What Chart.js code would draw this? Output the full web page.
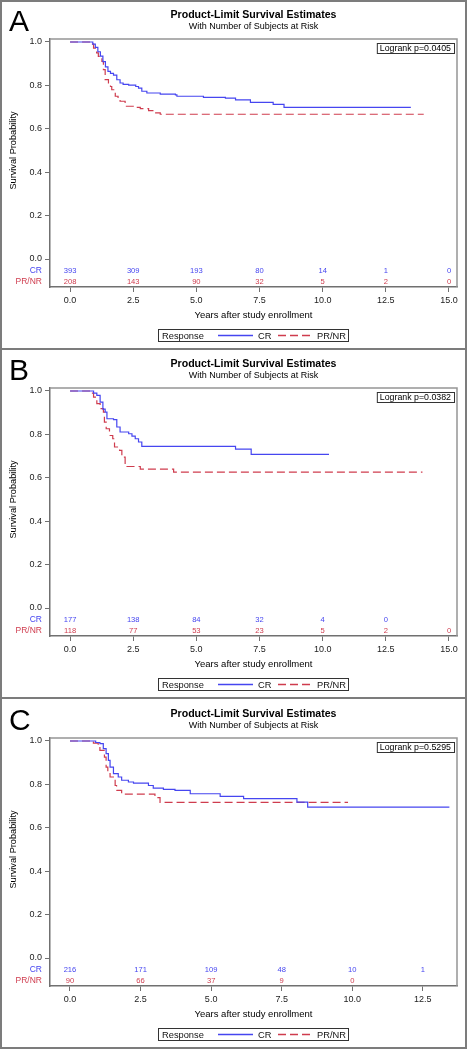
<!DOCTYPE html>
<html>
<head>
<meta charset="utf-8">
<script src="https://cdn.jsdelivr.net/npm/chart.js@4.4.1/dist/chart.umd.min.js"></script>
<style>
  html, body { margin: 0; padding: 0; background: #fff; }
  #page { position: relative; width: 467px; height: 1050px; overflow: hidden; }
  canvas { position: absolute; left: 0; }
  .frame { position: absolute; left: 0; width: 467px; box-sizing: border-box; border: 2px solid #7c7c7c; pointer-events: none; }
</style>
</head>
<body>
<div id="page">
  <canvas id="chartA" width="467" height="348" style="top:0px"></canvas>
  <canvas id="chartB" width="467" height="348" style="top:349px"></canvas>
  <canvas id="chartC" width="467" height="349" style="top:699px"></canvas>
  <div class="frame" style="top:0px;height:350px"></div>
  <div class="frame" style="top:348px;height:351px"></div>
  <div class="frame" style="top:697px;height:352px"></div>
</div>
<script>
// Achsen / Beschriftungen
const yTicks = [0, 0.2, 0.4, 0.6, 0.8, 1.0];
const xTicksAB = [0, 2.5, 5, 7.5, 10, 12.5, 15];
const xTicksC = [0, 2.5, 5, 7.5, 10, 12.5];
const groupNames = ['CR', 'PR/NR'];
const logrankTexts = ['Logrank p=0.0405', 'Logrank p=0.0382', 'Logrank p=0.5295'];

// Number at risk (gleiche Reihenfolge wie die x-Ticks)
const riskA_CR = [393, 309, 193, 80, 14, 1, 0];
const riskA_PR = [208, 143, 90, 32, 5, 2, 0];
const riskB_CR = [177, 138, 84, 32, 4, 0];
const riskB_PR = [118, 77, 53, 23, 5, 2, 0];
const riskC_CR = [216, 171, 109, 48, 10, 1];
const riskC_PR = [90, 66, 37, 9, 0];

// Kaplan-Meier Kurven (Zeit in Jahren, Überlebenswahrscheinlichkeit)
const aCrTime = [0, 0.9, 1.0, 1.1, 1.2, 1.3, 1.4, 1.5, 1.6, 1.72, 1.85, 1.98, 2.1, 2.32, 2.6, 2.71, 2.84, 3.04, 3.57, 4.17, 4.23, 5.28, 6.15, 6.55, 7.14, 8.04, 8.47, 13.49];
const aCrSurv = [1, 0.99, 0.975, 0.955, 0.935, 0.91, 0.885, 0.865, 0.855, 0.847, 0.826, 0.811, 0.805, 0.801, 0.795, 0.787, 0.773, 0.765, 0.76, 0.756, 0.75, 0.745, 0.741, 0.733, 0.722, 0.713, 0.699, 0.699];
const aPrTime = [0, 0.83, 0.93, 1.05, 1.12, 1.26, 1.32, 1.39, 1.52, 1.6, 1.65, 1.79, 1.9, 1.98, 2.18, 2.5, 2.78, 3.11, 3.31, 3.57, 14.0];
const aPrSurv = [1, 0.99, 0.972, 0.95, 0.934, 0.911, 0.873, 0.827, 0.811, 0.795, 0.78, 0.75, 0.737, 0.727, 0.704, 0.699, 0.693, 0.684, 0.673, 0.667, 0.667];

const bCrTime = [0, 0.93, 1.06, 1.19, 1.3, 1.39, 1.46, 1.72, 1.85, 1.98, 2.32, 2.45, 2.58, 2.71, 2.84, 6.55, 7.17, 10.25];
const bCrSurv = [1, 0.99, 0.98, 0.949, 0.916, 0.903, 0.872, 0.868, 0.834, 0.811, 0.803, 0.792, 0.78, 0.765, 0.745, 0.732, 0.708, 0.708];
const bPrTime = [0, 0.86, 0.93, 1.06, 1.19, 1.32, 1.36, 1.43, 1.56, 1.69, 1.76, 1.96, 2.05, 2.18, 2.25, 2.78, 4.1, 13.95];
const bPrSurv = [1, 0.99, 0.972, 0.942, 0.919, 0.903, 0.857, 0.826, 0.795, 0.78, 0.742, 0.726, 0.695, 0.66, 0.652, 0.64, 0.626, 0.626];

const cCrTime = [0, 0.91, 1.06, 1.18, 1.28, 1.36, 1.42, 1.54, 1.71, 1.83, 2.07, 2.25, 2.78, 2.95, 3.31, 3.72, 4.26, 5.32, 6.15, 8.04, 8.42, 13.44];
const cCrSurv = [1, 0.993, 0.988, 0.965, 0.942, 0.911, 0.88, 0.85, 0.834, 0.819, 0.811, 0.806, 0.795, 0.783, 0.777, 0.772, 0.757, 0.745, 0.734, 0.718, 0.695, 0.695];
const cPrTime = [0, 0.83, 1.0, 1.06, 1.22, 1.28, 1.34, 1.42, 1.6, 1.65, 1.83, 3.01, 3.19, 9.85];
const cPrSurv = [1, 0.99, 0.98, 0.957, 0.926, 0.88, 0.85, 0.834, 0.795, 0.772, 0.755, 0.739, 0.717, 0.717];

const FONT = "'Liberation Sans', Arial, sans-serif";
const BLUE = '#4646f0';
const RED = '#cf3c4e';

function kmPoints(times, surv) {
    return times.map((t, i) => ({ x: t, y: surv[i] }));
}

/**
 * Zeichnet Titel, Risikotabelle, Logrank-Box und Legende im SAS-Stil.
 */
const sasDecor = {
    id: 'sasDecor',
    afterDraw(chart, args, opts) {
        const ctx = chart.ctx;
        const a = chart.chartArea;
        const xs = chart.scales.x;
        const ys = chart.scales.y;
        const cx = (a.left + a.right) / 2;
        ctx.save();
        ctx.setLineDash([]);

        // Rahmen oben / rechts
        ctx.strokeStyle = '#959595';
        ctx.lineWidth = 1.5;
        ctx.beginPath();
        ctx.moveTo(a.left, a.top);
        ctx.lineTo(a.right, a.top);
        ctx.lineTo(a.right, a.bottom);
        ctx.stroke();

        // Panel-Buchstabe
        ctx.fillStyle = '#000';
        ctx.textBaseline = 'alphabetic';
        ctx.textAlign = 'left';
        ctx.font = '30px ' + FONT;
        ctx.fillText(opts.letter, 9, 31);

        // Titel
        ctx.textAlign = 'center';
        ctx.textBaseline = 'middle';
        ctx.font = 'bold 10.6px ' + FONT;
        ctx.fillText('Product-Limit Survival Estimates', cx, 15.5);
        ctx.font = '9px ' + FONT;
        ctx.fillText('With Number of Subjects at Risk', cx, 26.5);

        // Achsentitel
        ctx.font = '9.5px ' + FONT;
        ctx.fillText('Years after study enrollment', cx, 315);
        ctx.save();
        ctx.translate(13, (ys.getPixelForValue(0) + ys.getPixelForValue(1)) / 2);
        ctx.rotate(-Math.PI / 2);
        ctx.font = '9.2px ' + FONT;
        ctx.fillText('Survival Probability', 0, 0);
        ctx.restore();

        // Logrank
        ctx.font = '8.8px ' + FONT;
        const lw = ctx.measureText(opts.logrank).width;
        ctx.strokeStyle = '#333';
        ctx.lineWidth = 1;
        ctx.strokeRect(a.right - 3 - lw - 6 + 0.5, a.top + 4.5, lw + 6, 10);
        ctx.fillText(opts.logrank, a.right - 3 - lw / 2 - 3, a.top + 10);

        // Number at risk
        const rowCR = ys.getPixelForValue(-0.055);
        const rowPR = ys.getPixelForValue(-0.106);
        ctx.textAlign = 'right';
        ctx.font = '8.5px ' + FONT;
        ctx.fillStyle = BLUE;
        ctx.fillText(groupNames[0], 42, rowCR);
        ctx.fillStyle = RED;
        ctx.fillText(groupNames[1], 42, rowPR);
        ctx.textAlign = 'center';
        ctx.font = '7.6px ' + FONT;
        ctx.fillStyle = BLUE;
        opts.riskCR.forEach((n, i) => ctx.fillText(String(n), xs.getPixelForValue(opts.riskTimes[i]), rowCR));
        ctx.fillStyle = RED;
        opts.riskPR.forEach((n, i) => ctx.fillText(String(n), xs.getPixelForValue(opts.riskTimes[i]), rowPR));

        // Legende
        ctx.strokeStyle = '#333';
        ctx.lineWidth = 1;
        ctx.strokeRect(158.5, 329.5, 190, 12);
        ctx.fillStyle = '#111';
        ctx.textAlign = 'left';
        ctx.font = '9.3px ' + FONT;
        ctx.fillText('Response', 162, 336);
        ctx.fillText(groupNames[0], 258, 336);
        ctx.fillText(groupNames[1], 317, 336);
        ctx.lineWidth = 1.3;
        ctx.strokeStyle = BLUE;
        ctx.beginPath(); ctx.moveTo(218, 335.5); ctx.lineTo(253, 335.5); ctx.stroke();
        ctx.strokeStyle = RED;
        ctx.setLineDash([8, 4]);
        ctx.beginPath(); ctx.moveTo(278, 335.5); ctx.lineTo(311, 335.5); ctx.stroke();
        ctx.setLineDash([]);

        ctx.restore();
    }
};

/**
 * Erzeugt ein Panel (A, B oder C).
 */
function makePanel(id, letter, logrank, crPts, prPts, xMin, xMax, xTicks, riskCR, riskPR) {
    const canvas = document.getElementById(id);
    const h = canvas.height;
    const tickFont = { family: FONT, size: 9 };
    return new Chart(canvas, {
        type: 'line',
        data: {
            datasets: [
                { label: groupNames[0], data: crPts, borderColor: BLUE, borderWidth: 1.2, stepped: true, pointRadius: 0, fill: false },
                { label: groupNames[1], data: prPts, borderColor: RED, borderWidth: 1.2, stepped: true, pointRadius: 0, fill: false, borderDash: [8, 4] }
            ]
        },
        options: {
            responsive: false, animation: false, devicePixelRatio: 1,
            layout: { padding: { top: 39, right: 10, left: 0, bottom: 0 } },
            plugins: {
                legend: { display: false }, title: { display: false }, tooltip: { enabled: false },
                sasDecor: { letter: letter, logrank: logrank, riskTimes: xTicks, riskCR: riskCR, riskPR: riskPR }
            },
            scales: {
                x: {
                    type: 'linear', min: xMin, max: xMax,
                    afterBuildTicks: s => { s.ticks = xTicks.map(v => ({ value: v })); },
                    afterFit: s => { s.height = h - 287; },
                    ticks: { callback: v => v.toFixed(1), font: tickFont, color: '#222', padding: 3, maxRotation: 0, autoSkip: false },
                    grid: { drawOnChartArea: false, drawTicks: true, tickLength: 5, color: '#707070' },
                    border: { display: true, color: '#707070', width: 1.5 }
                },
                y: {
                    min: -0.129, max: 1.0138,
                    afterBuildTicks: s => { s.ticks = yTicks.map(v => ({ value: v })); },
                    afterFit: s => { s.width = 50; },
                    ticks: { callback: v => v.toFixed(1), font: tickFont, color: '#222', padding: 3, autoSkip: false },
                    grid: { drawOnChartArea: false, drawTicks: true, tickLength: 5, color: '#707070' },
                    border: { display: true, color: '#707070', width: 1.5 }
                }
            }
        },
        plugins: [sasDecor]
    });
}

makePanel('chartA', 'A', logrankTexts[0], kmPoints(aCrTime, aCrSurv), kmPoints(aPrTime, aPrSurv), -0.794, 15.317, xTicksAB, riskA_CR, riskA_PR);
makePanel('chartB', 'B', logrankTexts[1], kmPoints(bCrTime, bCrSurv), kmPoints(bPrTime, bPrSurv), -0.794, 15.317, xTicksAB, riskB_CR, riskB_PR);
makePanel('chartC', 'C', logrankTexts[2], kmPoints(cCrTime, cCrSurv), kmPoints(cPrTime, cPrSurv), -0.708, 13.71, xTicksC, riskC_CR, riskC_PR);
</script>
</body>
</html>
